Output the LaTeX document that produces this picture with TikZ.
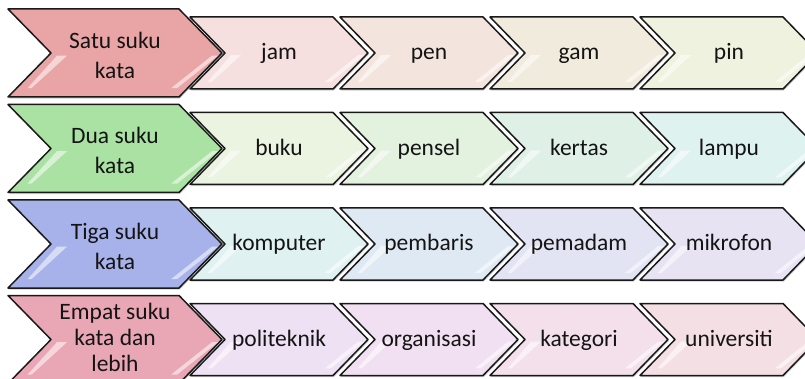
\documentclass[tikz,border=0pt]{standalone}
\usepackage{fontspec}
\setmainfont{Carlito}
\usetikzlibrary{shadows}
\definecolor{hA}{HTML}{E9A4A6}
\definecolor{hB}{HTML}{A9E2A3}
\definecolor{hC}{HTML}{A7B2EA}
\definecolor{hD}{HTML}{E9A6B5}
\definecolor{aA}{HTML}{F5DFDF}\definecolor{aB}{HTML}{F3E4DD}\definecolor{aC}{HTML}{F1EBDD}\definecolor{aD}{HTML}{EEF2DE}
\definecolor{bA}{HTML}{EBF3E1}\definecolor{bB}{HTML}{E3F1DF}\definecolor{bC}{HTML}{DFF1E6}\definecolor{bD}{HTML}{DEF2EF}
\definecolor{cA}{HTML}{DFF2F1}\definecolor{cB}{HTML}{DFE9F3}\definecolor{cC}{HTML}{E2E3F3}\definecolor{cD}{HTML}{E7E3F3}
\definecolor{dA}{HTML}{EEE1F3}\definecolor{dB}{HTML}{F1E0F1}\definecolor{dC}{HTML}{F3E0EB}\definecolor{dD}{HTML}{F4E0E4}
\tikzset{
  chevline/.style={draw=black!90, line width=1.5pt, line join=round,
    drop shadow={shadow xshift=0.8pt, shadow yshift=-1.6pt, opacity=0.3, fill=black!60}},
  gloss/.style={fill=white, opacity=0.55, draw=none},
  chevtext/.style={font=\fontsize{23.5}{30}\selectfont, text=black!92, align=center, inner sep=0pt},
  smalltext/.style={chevtext, anchor=base, yshift=-7pt},
  headtext/.style={chevtext, yshift=-2pt},
  headtight/.style={headtext, font=\fontsize{23.5}{26}\selectfont, yshift=4pt},
}
% #1 name, #2 left x, #3 center y, #4 total width, #5 half height, #6 depth, #7 fill, #8 text, #9 text style
\newcommand{\chevshape}[9]{%
\begin{scope}[shift={(#2,#3)}]
  \draw[chevline, fill=#7] (0,-#5) -- (#4-#6,-#5) -- (#4,0) -- (#4-#6,#5) -- (0,#5) -- (#6,0) -- cycle;
  \fill[gloss] (0.22*#6+10,0.8*#5) -- (#6+6,0.06*#5) -- (#6+16,0.06*#5) -- (0.22*#6+14,0.8*#5) -- cycle;
  \fill[gloss] (#4-#6-8,0.8*#5) -- (#4-10,0.06*#5) -- (#4-4,0.06*#5) -- (#4-#6-2,0.8*#5) -- cycle;
  \node[#9] (#1) at ({(#4)/2},0) {#8};
\end{scope}}
\begin{document}
\begin{tikzpicture}[x=1pt,y=-1pt]
\useasboundingbox (0,0) rectangle (805,379);
\clip (0,0) rectangle (805,379);
\fill[white] (0,0) rectangle (805,379);
% row 1
\chevshape{r1d}{640}{53}{178}{36}{35}{aD}{pin}{smalltext}
\chevshape{r1c}{490}{53}{178}{36}{35}{aC}{gam}{smalltext}
\chevshape{r1b}{340}{53}{178}{36}{35}{aB}{pen}{smalltext}
\chevshape{r1a}{190}{53}{178}{36}{35}{aA}{jam}{smalltext}
\chevshape{r1h}{8}{53}{214}{44}{43}{hA}{Satu suku\\kata}{headtext}
% row 2
\chevshape{r2d}{640}{148.5}{178}{36}{35}{bD}{lampu}{smalltext}
\chevshape{r2c}{490}{148.5}{178}{36}{35}{bC}{kertas}{smalltext}
\chevshape{r2b}{340}{148.5}{178}{36}{35}{bB}{pensel}{smalltext}
\chevshape{r2a}{190}{148.5}{178}{36}{35}{bA}{buku}{smalltext}
\chevshape{r2h}{8}{148.5}{214}{44}{43}{hB}{Dua suku\\kata}{headtext}
% row 3
\chevshape{r3d}{640}{244}{178}{36}{35}{cD}{mikrofon}{smalltext}
\chevshape{r3c}{490}{244}{178}{36}{35}{cC}{pemadam}{smalltext}
\chevshape{r3b}{340}{244}{178}{36}{35}{cB}{pembaris}{smalltext}
\chevshape{r3a}{190}{244}{178}{36}{35}{cA}{komputer}{smalltext}
\chevshape{r3h}{8}{244}{214}{44}{43}{hC}{Tiga suku\\kata}{headtext}
% row 4
\chevshape{r4d}{640}{339.5}{178}{36}{35}{dD}{universiti}{smalltext}
\chevshape{r4c}{490}{339.5}{178}{36}{35}{dC}{kategori}{smalltext}
\chevshape{r4b}{340}{339.5}{178}{36}{35}{dB}{organisasi}{smalltext}
\chevshape{r4a}{190}{339.5}{178}{36}{35}{dA}{politeknik}{smalltext}
\chevshape{r4h}{8}{339.5}{214}{44}{43}{hD}{Empat suku\\kata dan\\lebih}{headtight}
\end{tikzpicture}
\end{document}
